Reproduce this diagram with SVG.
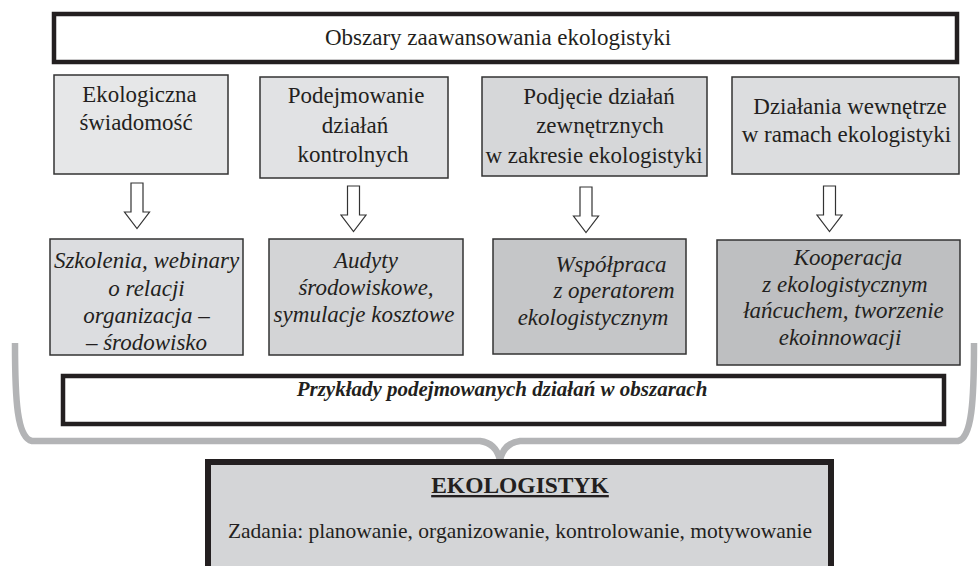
<svg xmlns="http://www.w3.org/2000/svg" width="979" height="566" viewBox="0 0 979 566">
<style>
.thinBox{stroke:#333;stroke-width:1.5}
.thickBox{stroke:#231f20;stroke-width:4.5}
.blockArrow{fill:#fff;stroke:#333;stroke-width:1.2}
</style>
<defs>
<path id="arrow" d="M-6,0 H6 V29 H12.5 L0,45.5 L-12.5,29 H-6 Z"/>
</defs>
<g id="connectors">
<path d="M15,343 C15,400 17,438 32,441 L480,441 Q496,443 500,460 Q504,443 520,441 L958,441 C972,438 974,400 974,343" fill="none" stroke="#b3b4b6" stroke-width="6.5" stroke-linejoin="round"/>
<use href="#arrow" class="blockArrow" x="137" y="183"/>
<use href="#arrow" class="blockArrow" x="353.5" y="186"/>
<use href="#arrow" class="blockArrow" x="586" y="187"/>
<use href="#arrow" class="blockArrow" x="829.5" y="186"/>
</g>
<g id="title">
<rect x="54" y="14" width="903" height="48" fill="#fff" class="thickBox"/>
<text x="498" y="45" font-family="Liberation Serif" font-size="23" fill="#231f20" text-anchor="middle">Obszary zaawansowania ekologistyki</text>
</g>
<g id="area1" font-family="Liberation Serif" font-size="22.9" fill="#231f20" text-anchor="middle">
<rect x="54" y="75" width="174" height="99" fill="#e6e7e8" class="thinBox"/>
<text x="139.5" y="102">Ekologiczna</text>
<text x="136" y="130">świadomość</text>
</g>
<g id="area2" font-family="Times New Roman" font-size="23" fill="#231f20" text-anchor="middle">
<rect x="260" y="77" width="188" height="101" fill="#e1e2e4" class="thinBox"/>
<text x="356" y="103">Podejmowanie</text>
<text x="355" y="133">działań</text>
<text x="353" y="162">kontrolnych</text>
</g>
<g id="area3" font-family="Liberation Serif, serif" font-size="23px" fill="#231f20" text-anchor="middle">
<rect x="482" y="77" width="225" height="99" fill="#d6d7d9" class="thinBox"/>
<text x="599" y="104">Podjęcie działań</text>
<text x="600" y="133">zewnętrznych</text>
<text x="594" y="163">w zakresie ekologistyki</text>
</g>
<g id="area4" font-family="Liberation Serif, serif" font-size="23px" fill="#231f20" text-anchor="middle">
<rect x="732" y="77" width="227" height="97" fill="#dcdddf" class="thinBox"/>
<text x="850" y="114">Działania wewnętrze</text>
<text x="846.5" y="142">w ramach ekologistyki</text>
</g>
<g id="example1" font-family="Liberation Serif, serif" font-size="23px" font-style="italic" fill="#231f20" text-anchor="middle">
<rect x="50" y="239" width="193" height="116" fill="#dcdde0" class="thinBox"/>
<text x="146.5" y="268">Szkolenia, webinary</text>
<text x="146.5" y="296">o relacji</text>
<text x="146.5" y="323">organizacja –</text>
<text x="146.5" y="350">– środowisko</text>
</g>
<g id="example2" font-family="Liberation Serif, serif" font-size="23px" font-style="italic" fill="#231f20" text-anchor="middle">
<rect x="269" y="239" width="194" height="116" fill="#d3d4d6" class="thinBox"/>
<text x="366" y="268">Audyty</text>
<text x="366" y="295">środowiskowe,</text>
<text x="364" y="322">symulacje kosztowe</text>
</g>
<g id="example3" font-family="Liberation Serif, serif" font-size="23px" font-style="italic" fill="#231f20" text-anchor="middle">
<rect x="493" y="239" width="193" height="115" fill="#c5c6c8" class="thinBox"/>
<text x="611" y="272">Współpraca</text>
<text x="614" y="298">z operatorem</text>
<text x="593" y="325">ekologistycznym</text>
</g>
<g id="example4" font-family="Liberation Serif, serif" font-size="23px" font-style="italic" fill="#231f20" text-anchor="middle">
<rect x="717" y="240" width="243" height="125" fill="#bebfc1" class="thinBox"/>
<text x="848" y="265">Kooperacja</text>
<text x="845" y="292">z ekologistycznym</text>
<text x="843.5" y="318">łańcuchem, tworzenie</text>
<text x="840" y="345">ekoinnowacji</text>
</g>
<g id="examples" font-family="Liberation Serif, serif" fill="#231f20" text-anchor="middle">
<rect x="63" y="376" width="881" height="48" fill="#fff" class="thickBox"/>
<text x="502" y="396" font-size="21px" font-weight="bold" font-style="italic">Przykłady podejmowanych działań w obszarach</text>
</g>
<g id="ekologistyk" font-family="Liberation Serif, serif" fill="#231f20" text-anchor="middle">
<rect x="208" y="462" width="623" height="110" fill="#d4d5d7" stroke="#231f20" stroke-width="6"/>
<text x="520" y="493" font-size="23.5px" font-weight="bold" text-decoration="underline">EKOLOGISTYK</text>
<text x="520" y="538" font-size="21.5px">Zadania: planowanie, organizowanie, kontrolowanie, motywowanie</text>
</g>
</svg>
